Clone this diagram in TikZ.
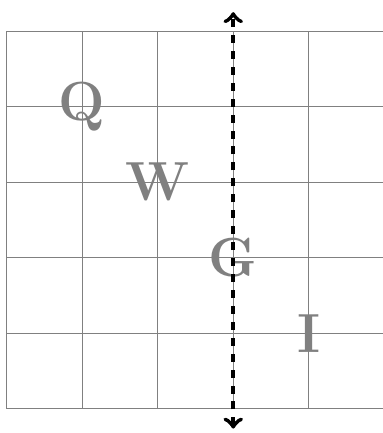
\documentclass[tikz,border=0pt]{standalone}
\usepackage{tikz}
\usepackage{xcolor}

\begin{document}
\begin{tikzpicture}

\useasboundingbox (-0.086,-0.318) rectangle (4.97,5.411);

\node[
    text=gray,
    font=\huge\bfseries
] (q) at (1,4)
{Q};

\node[
    text=gray,
    font=\huge\bfseries
] (w) at (2,3)
{W};

\node[
    text=gray,
    font=\huge\bfseries
] (g) at (3,2)
{G};

\node[
    text=gray,
    font=\huge\bfseries
] (i) at (4,1)
{I};

\draw[gray, step=1cm] (0,0) grid (5,5);

\coordinate (top) at (3,5.25);
\coordinate (bottom) at (3,-0.26);

\draw[line width=1.6pt, dashed, <->] (bottom) -- (top);

\end{tikzpicture}
\end{document}
